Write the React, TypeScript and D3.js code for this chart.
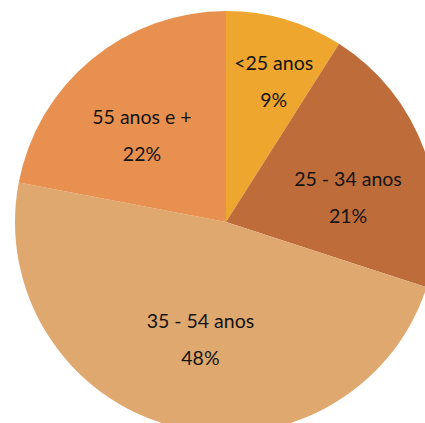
import React from "react";
import * as d3 from "d3";

const categories = ["<25 anos", "25 - 34 anos", "35 - 54 anos", "55 anos e +"];
const values = [9, 21, 48, 22];
const percentLabels = ["9%", "21%", "48%", "22%"];
const colors = ["#EFA62E", "#BE6D3A", "#DFA86F", "#E8904F"];

const W = 425;
const H = 423;
const CX = 226;
const CY = 222;
const R = 211;
const LABEL_R = 135;
const LABEL_SHIFT: [number, number][] = [
  [10, -11],
  [-5, 21],
  [8, -14],
  [2, 17],
];
const LINE_GAP = 37;

export default function App() {
  const pie = d3.pie<number>().sort(null).value((d) => d);
  const arcs = pie(values);
  const arc = d3.arc<d3.PieArcDatum<number>>().innerRadius(0).outerRadius(R);
  const labelArc = d3
    .arc<d3.PieArcDatum<number>>()
    .innerRadius(LABEL_R)
    .outerRadius(LABEL_R);

  return (
    <svg
      width={W}
      height={H}
      style={{ position: "absolute", left: 0, top: 0, background: "#fff" }}
    >
      <g transform={`translate(${CX},${CY})`}>
        {arcs.map((a, i) => (
          <path key={i} d={arc(a) || ""} fill={colors[i]} />
        ))}
        {arcs.map((a, i) => {
          const [x, y] = labelArc.centroid(a);
          const lx = x + LABEL_SHIFT[i][0];
          const ly = y + LABEL_SHIFT[i][1];
          return (
            <g key={"l" + i} fontFamily="Lato, 'Open Sans', sans-serif" fontSize={19.5} fill="#141414" textAnchor="middle">
              <text x={lx} y={ly - LINE_GAP / 2} dominantBaseline="central">
                {categories[i]}
              </text>
              <text x={lx} y={ly + LINE_GAP / 2} dominantBaseline="central">
                {percentLabels[i]}
              </text>
            </g>
          );
        })}
      </g>
    </svg>
  );
}
